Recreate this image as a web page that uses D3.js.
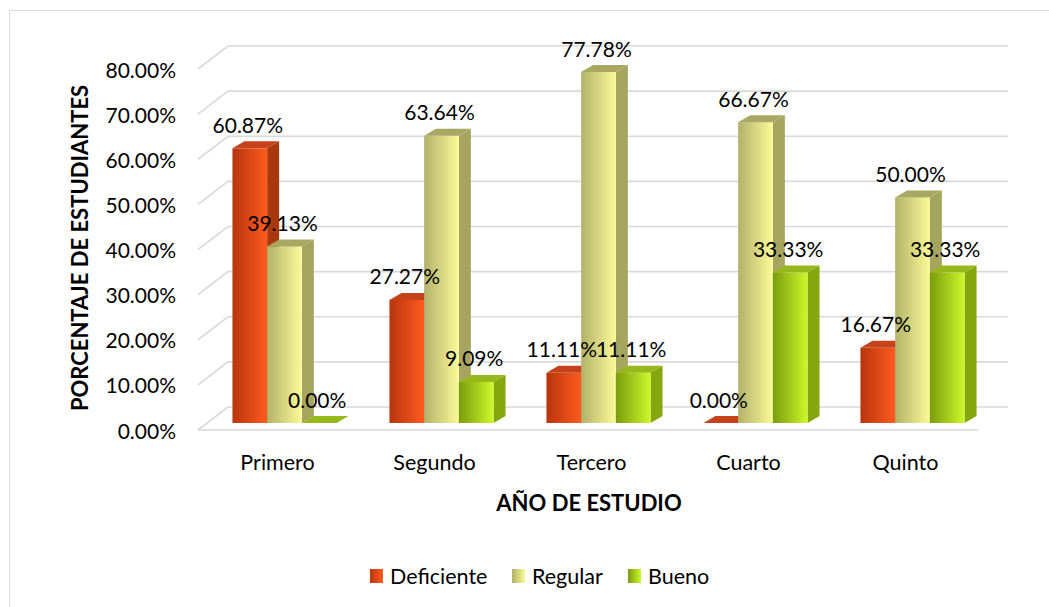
<!DOCTYPE html>
<html><head><meta charset="utf-8">
<script src="https://cdn.jsdelivr.net/npm/d3@7"></script>
<style>
html,body{margin:0;padding:0;background:#fff;}
svg text{font-family:Lato,"Open Sans",sans-serif;fill:#000;}
</style></head>
<body>
<svg id="chart" width="1049" height="607"></svg>
<script>
const categories = ["Primero","Segundo","Tercero","Cuarto","Quinto"];
const seriesNames = ["Deficiente","Regular","Bueno"];
const deficiente = [60.87, 27.27, 11.11, 0.00, 16.67];
const regular    = [39.13, 63.64, 77.78, 66.67, 50.00];
const bueno      = [0.00, 9.09, 11.11, 33.33, 33.33];
const yTicks = [0,10,20,30,40,50,60,70,80];
const yTitle = "PORCENTAJE DE ESTUDIANTES";
const xTitle = "AÑO DE ESTUDIO";

const seriesValues = [deficiente, regular, bueno];
const svg = d3.select("#chart");

// colours: [frontDark, frontLight, top, side]
const colors = {
  Deficiente: ["#b8350e","#ff5b1f","#c5421a","#a9380f"],
  Regular:    ["#b2b26a","#fbfa98","#a9a862","#a6a560"],
  Bueno:      ["#7a9c0c","#cdf82a","#97b81a","#86a60e"]
};

const defs = svg.append("defs");
seriesNames.forEach((s,i)=>{
  const g = defs.append("linearGradient").attr("id","grad"+i)
    .attr("x1","0%").attr("x2","100%").attr("y1","0%").attr("y2","0%");
  g.append("stop").attr("offset","0%").attr("stop-color",colors[s][0]);
  g.append("stop").attr("offset","100%").attr("stop-color",colors[s][1]);
});

// outer border
svg.append("rect").attr("x",9.5).attr("y",10.5).attr("width",1100).attr("height",700)
  .attr("fill","none").attr("stroke","#d9d9d9").attr("stroke-width",1);

// 3D geometry
const wallLeft = 228, wallRight = 1008;
const floorDX = -30, floorDY = 23;       // front plane offset from back wall
const yBack = d3.scaleLinear().domain([0,80]).range([407,46]);
const yBar  = d3.scaleLinear().domain([0,80]).range([423,62]);
const depthDX = 12, depthDY = -7;

const grid = svg.append("g").attr("stroke","#d9d9d9").attr("stroke-width",1.6).attr("fill","none");
yTicks.forEach(t=>{
  const yb = yBack(t);
  grid.append("path").attr("d",`M${wallLeft+floorDX},${yb+floorDY}L${wallLeft},${yb}L${wallRight},${yb}`);
});
grid.append("path").attr("d",`M${wallLeft+floorDX},${yBack(0)+floorDY}L${wallRight+floorDX},${yBack(0)+floorDY}`);

const fs = "21px";

// y tick labels
svg.append("g").selectAll("text").data(yTicks).join("text")
  .attr("x",176).attr("y",d=>yBack(d)+floorDY)
  .attr("text-anchor","end").attr("dominant-baseline","central")
  .style("font-size",fs)
  .text(d=>d3.format(".2f")(d)+"%");

// x scales
const x0 = d3.scaleBand().domain(categories).range([206,991]).paddingInner(0.337).paddingOuter(0.1685);
const x1 = d3.scaleBand().domain(seriesNames).range([0,x0.bandwidth()]);

const bars = svg.append("g");
const labels = [];
categories.forEach((c,ci)=>{
  seriesNames.forEach((s,si)=>{
    const v = seriesValues[si][ci];
    const x = x0(c)+x1(s), w = x1.bandwidth();
    const top = yBar(v), bot = yBar(0);
    const g = bars.append("g");
    if (bot-top > 0.01) {
      g.append("path").attr("fill",colors[s][3])
        .attr("d",`M${x+w},${top}L${x+w+depthDX},${top+depthDY}L${x+w+depthDX},${bot+depthDY}L${x+w},${bot}Z`);
      g.append("rect").attr("x",x).attr("y",top).attr("width",w).attr("height",bot-top)
        .attr("fill",`url(#grad${si})`);
    }
    g.append("path").attr("fill",colors[s][2])
      .attr("d",`M${x},${top}L${x+depthDX},${top+depthDY}L${x+w+depthDX},${top+depthDY}L${x+w},${top}Z`);
    labels.push({x:x+w/2-2, y:top-24, t:d3.format(".2f")(v)+"%"});
  });
});

svg.append("g").selectAll("text").data(labels).join("text")
  .attr("x",d=>d.x).attr("y",d=>d.y)
  .attr("text-anchor","middle").attr("dominant-baseline","central")
  .style("font-size",fs).text(d=>d.t);

// category labels
svg.append("g").selectAll("text").data(categories).join("text")
  .attr("x",d=>x0(d)+x0.bandwidth()/2-7).attr("y",462)
  .attr("text-anchor","middle").attr("dominant-baseline","central")
  .style("font-size","21.5px").text(d=>d);

// axis titles
svg.append("text").attr("x",589).attr("y",502)
  .attr("text-anchor","middle").attr("dominant-baseline","central")
  .style("font-size","22px").style("font-weight","bold").text(xTitle);
svg.append("text").attr("transform","translate(79,248) rotate(-90)")
  .attr("text-anchor","middle").attr("dominant-baseline","central")
  .style("font-size","22px").style("font-weight","bold").text(yTitle);

// legend
const legendX = [370, 512, 628];
const lg = svg.append("g");
seriesNames.forEach((s,i)=>{
  lg.append("rect").attr("x",legendX[i]).attr("y",569).attr("width",13).attr("height",14)
    .attr("fill",`url(#grad${i})`);
  lg.append("text").attr("x",legendX[i]+20).attr("y",576)
    .attr("dominant-baseline","central").style("font-size","21.5px").text(s);
});
</script>
</body></html>
